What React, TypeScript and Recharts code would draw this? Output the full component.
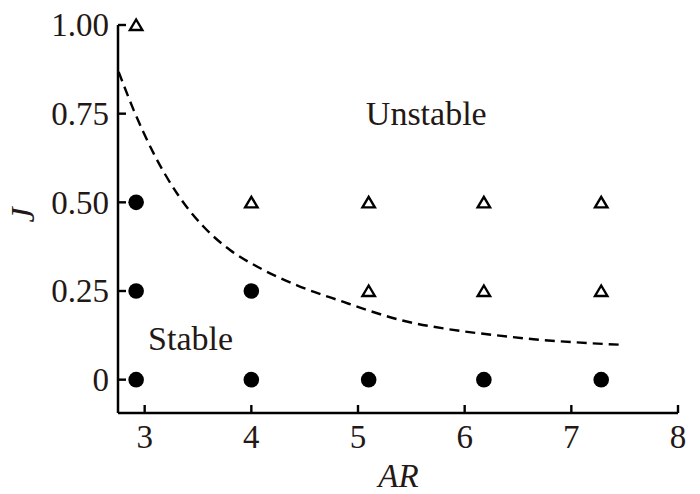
import React from 'react';
import { ScatterChart, Scatter, XAxis, YAxis, ReferenceDot } from 'recharts';

// ---- data ----
const xTicks = [3, 4, 5, 6, 7, 8];
const yTicks = [0, 0.25, 0.5, 0.75, 1.0];
const yTickLabels = ['0', '0.25', '0.50', '0.75', '1.00'];

const stableAR = [2.92, 2.92, 2.92, 4.0, 4.0, 5.1, 6.18, 7.28];
const stableJ = [0.5, 0.25, 0, 0.25, 0, 0, 0, 0];

const unstableAR = [2.92, 4.0, 5.1, 6.18, 7.28, 5.1, 6.18, 7.28];
const unstableJ = [1.0, 0.5, 0.5, 0.5, 0.5, 0.25, 0.25, 0.25];

const boundaryAR = [2.756, 2.897, 3.084, 3.304, 3.553, 3.803, 4.084, 4.428, 4.865, 5.078, 5.427, 5.834, 6.271, 6.646, 7.052, 7.489];
const boundaryJ = [0.868, 0.76, 0.638, 0.525, 0.431, 0.365, 0.314, 0.266, 0.219, 0.197, 0.166, 0.143, 0.126, 0.114, 0.105, 0.098];

const regionLabels = ['Unstable', 'Stable'];
const regionAR = [5.64, 3.43];
const regionJ = [0.753, 0.117];

const stableData = stableAR.map((x, i) => ({ x, y: stableJ[i] }));
const unstableData = unstableAR.map((x, i) => ({ x, y: unstableJ[i] }));
const boundaryData = boundaryAR.map((x, i) => ({ x, y: boundaryJ[i] }));

// ---- layout / style ----
const W = 700;
const H = 494;
const M = { top: 25, right: 22, left: 0, bottom: 0 };
const Y_AXIS_W = 118;
const X_AXIS_H = 81;
const AXIS_LEFT = M.left + Y_AXIS_W;
const AXIS_BOTTOM = H - M.bottom - X_AXIS_H;
const FONT = '"Liberation Serif", "Times New Roman", serif';
const TEXT = '#231815';
const TICK_LEN = 8;

const YTick = (props: any) => {
  const { x, y, payload } = props;
  const idx = yTicks.indexOf(payload.value);
  return (
    <g>
      <line x1={AXIS_LEFT} x2={AXIS_LEFT + TICK_LEN} y1={y} y2={y} stroke="#000" strokeWidth={2.4} />
      <text x={x} y={y} dy="0.34em" textAnchor="end" fontFamily={FONT} fontSize={33} fill={TEXT}>
        {idx >= 0 ? yTickLabels[idx] : payload.value}
      </text>
    </g>
  );
};

const XTick = (props: any) => {
  const { x, y, payload } = props;
  return (
    <g>
      <line x1={x} x2={x} y1={AXIS_BOTTOM} y2={AXIS_BOTTOM - TICK_LEN} stroke="#000" strokeWidth={2.4} />
      <text x={x} y={y} dy="0.71em" textAnchor="middle" fontFamily={FONT} fontSize={33} fill={TEXT}>
        {payload.value}
      </text>
    </g>
  );
};

const Triangle = (props: any) => {
  const { cx, cy } = props;
  if (cx == null || cy == null) return <g />;
  const pts = `${cx},${cy - 5.5} ${cx + 6.2},${cy + 5} ${cx - 6.2},${cy + 5}`;
  return <polygon points={pts} fill="#fff" stroke="#000" strokeWidth={2.4} strokeLinejoin="miter" />;
};

const Dot = (props: any) => {
  const { cx, cy } = props;
  if (cx == null || cy == null) return <g />;
  return <circle cx={cx} cy={cy} r={7.8} fill="#000" />;
};

const NoShape = () => <g />;

const RegionLabel = (text: string) => (props: any) => {
  const vb = props.viewBox || {};
  const cx = (vb.x ?? 0) + (vb.width ?? 0) / 2;
  const cy = (vb.y ?? 0) + (vb.height ?? 0) / 2;
  return (
    <text x={cx} y={cy} dy="0.35em" textAnchor="middle" fontFamily={FONT} fontSize={34} fill={TEXT}>
      {text}
    </text>
  );
};

const XLabel = () => (
  <text x={398.5} y={486.5} textAnchor="middle" fontFamily={FONT} fontStyle="italic" fontSize={33} fill={TEXT}>
    AR
  </text>
);

const YLabel = () => (
  <text
    x={34}
    y={215}
    textAnchor="middle"
    fontFamily={FONT}
    fontStyle="italic"
    fontSize={34}
    fill={TEXT}
    transform="rotate(-90, 34, 215)"
  >
    J
  </text>
);

export default function App() {
  return (
    <div style={{ position: 'absolute', left: 0, top: 0, width: W, height: H, background: '#fff' }}>
      <ScatterChart width={W} height={H} margin={M}>
        <XAxis
          type="number"
          dataKey="x"
          domain={[2.75, 8]}
          ticks={xTicks}
          height={X_AXIS_H}
          axisLine={{ stroke: '#000', strokeWidth: 2.5 }}
          tickLine={false}
          tickSize={0}
          tickMargin={12}
          tick={<XTick />}
          interval={0}
          label={<XLabel />}
        />
        <YAxis
          type="number"
          dataKey="y"
          domain={[-0.094, 1.0]}
          ticks={yTicks}
          width={Y_AXIS_W}
          axisLine={{ stroke: '#000', strokeWidth: 2.5 }}
          tickLine={false}
          tickSize={0}
          tickMargin={9}
          tick={<YTick />}
          interval={0}
          label={<YLabel />}
        />
        <Scatter
          data={boundaryData}
          shape={<NoShape />}
          line={{ stroke: '#000', strokeWidth: 2.4, strokeDasharray: '10 6' }}
          lineType="joint"
          lineJointType="monotoneX"
          isAnimationActive={false}
        />
        <Scatter data={stableData} shape={<Dot />} isAnimationActive={false} />
        <Scatter data={unstableData} shape={<Triangle />} isAnimationActive={false} />
        {regionLabels.map((t, i) => (
          <ReferenceDot
            key={t}
            x={regionAR[i]}
            y={regionJ[i]}
            r={1}
            fill="none"
            stroke="none"
            ifOverflow="visible"
            label={RegionLabel(t)}
          />
        ))}
      </ScatterChart>
    </div>
  );
}
